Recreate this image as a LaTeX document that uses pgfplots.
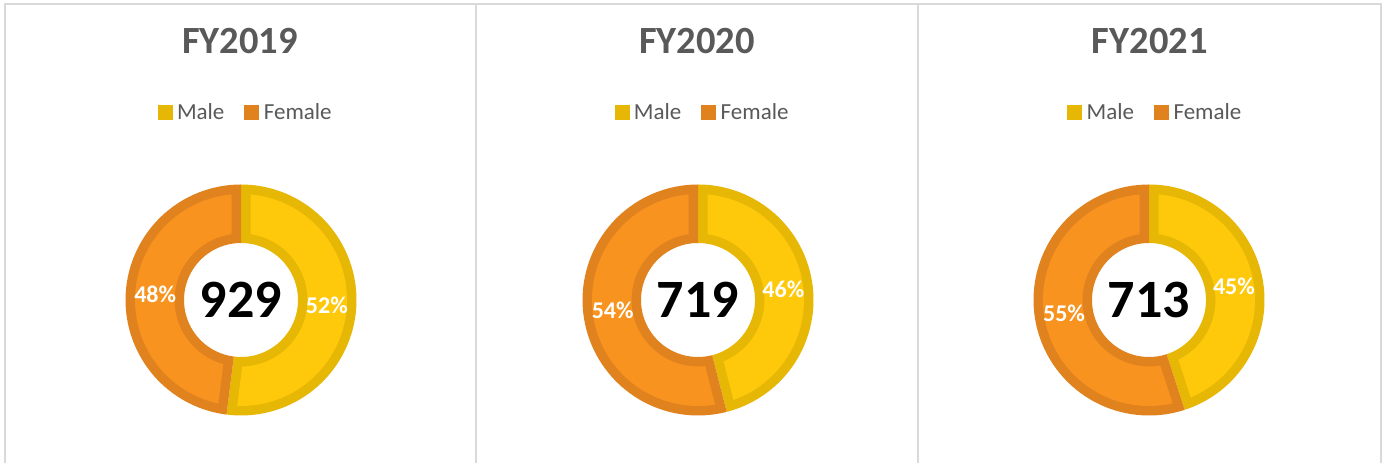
\documentclass[border=0pt]{standalone}
\usepackage{pgfplots}
\pgfplotsset{compat=1.18}
\usepackage{fontspec}
\setmainfont{Carlito}
\definecolor{yfill}{HTML}{FFC90B}
\definecolor{ybord}{HTML}{E6B705}
\definecolor{ofill}{HTML}{F7931E}
\definecolor{obord}{HTML}{E0821E}
\definecolor{txtgray}{HTML}{595959}
\definecolor{framec}{HTML}{D9D9D9}

\def\Ro{115.5}\def\Ri{57}\def\bw{9.5}\def\Rm{86}
\pgfmathsetmacro\dO{asin(\bw/(\Ro-\bw))}
\pgfmathsetmacro\dI{asin(\bw/(\Ri+\bw))}

% #1 cx, #2 cy, #3 start angle, #4 end angle (clockwise), #5 fill, #6 border
\newcommand{\seg}[6]{%
 \addplot[forget plot, fill=#6, draw=none, domain=0:3, samples=241, variable=\t]
  ({#1+((\t<1.5)?(\Ro):(\Ri))*cos((\t<1.5)?((#3)+((#4)-(#3))*min(\t,1)):((#4)+((#3)-(#4))*(max(\t,2)-2)))},
   {#2+((\t<1.5)?(\Ro):(\Ri))*sin((\t<1.5)?((#3)+((#4)-(#3))*min(\t,1)):((#4)+((#3)-(#4))*(max(\t,2)-2)))});
 \addplot[forget plot, fill=#5, draw=none, domain=0:3, samples=241, variable=\t]
  ({#1+((\t<1.5)?(\Ro-\bw):(\Ri+\bw))*cos((\t<1.5)?((#3)-\dO+((#4)-(#3)+2*\dO)*min(\t,1)):((#4)+\dI+((#3)-(#4)-2*\dI)*(max(\t,2)-2)))},
   {#2+((\t<1.5)?(\Ro-\bw):(\Ri+\bw))*sin((\t<1.5)?((#3)-\dO+((#4)-(#3)+2*\dO)*min(\t,1)):((#4)+\dI+((#3)-(#4)-2*\dI)*(max(\t,2)-2)))});
}

% #1 cx, #2 cy, #3 male %, #4 female %, #5 total
\newcommand{\donut}[5]{%
 \seg{#1}{#2}{90}{90-3.6*#3}{yfill}{ybord}
 \seg{#1}{#2}{90-3.6*#3}{-270}{ofill}{obord}
 \node[pct] at (axis cs:{#1+\Rm*cos(90-1.8*#3)},{#2+\Rm*sin(90-1.8*#3)}) {#3\%};
 \node[pct] at (axis cs:{#1+\Rm*cos(90-3.6*#3-1.8*#4)},{#2+\Rm*sin(90-3.6*#3-1.8*#4)}) {#4\%};
 \node[tot] at (axis cs:#1,#2) {#5};
}

\tikzset{
 pct/.style={font=\fontsize{24}{26}\selectfont\bfseries, text=white},
 tot/.style={font=\fontsize{54}{56}\selectfont\bfseries, text=black},
}
\pgfplotsset{
 panel/.style={
  anchor=south west, scale only axis, hide axis, clip=false,
  ymin=0, ymax=463, height=463pt,
  title style={at={(0.5,0.8704)}, anchor=base, font=\fontsize{38.5}{42}\selectfont\bfseries, text=txtgray},
  legend columns=2,
  legend style={at={(0.5,0.757)}, xshift=4.5pt, anchor=center, draw=none, fill=none,
    font=\fontsize{23}{25}\selectfont, text=txtgray,
    nodes={inner sep=0pt},
    /tikz/every odd column/.append style={column sep=5pt},
    /tikz/every even column/.append style={column sep=20pt}},
 },
}
\newcommand{\legendboxes}{%
 \addlegendimage{legend image code/.code={\fill[ybord] (0pt,-7pt) rectangle (14pt,7pt);}}
 \addlegendentry{Male}
 \addlegendimage{legend image code/.code={\fill[obord] (0pt,-7pt) rectangle (14pt,7pt);}}
 \addlegendentry{Female}
}

\begin{document}
\begin{tikzpicture}[x=1pt,y=1pt]
\fill[white] (0,0) rectangle (1384,463);

\begin{axis}[panel, at={(4.5,0)}, xmin=4.5, xmax=475.7, width=471.2pt, title={FY2019}]
 \legendboxes
 \donut{241}{163}{52}{48}{929}
\end{axis}

\begin{axis}[panel, at={(475.7,0)}, xmin=475.7, xmax=918.3, width=442.6pt, title={FY2020}]
 \legendboxes
 \donut{698}{163}{46}{54}{719}
\end{axis}

\begin{axis}[panel, at={(918.3,0)}, xmin=918.3, xmax=1381.3, width=463pt, title={FY2021}]
 \legendboxes
 \donut{1149}{163}{45}{55}{713}
\end{axis}

\draw[framec, line width=2pt] (4.5,0) -- (4.5,459) -- (1381.3,459) -- (1381.3,0);
\draw[framec, line width=2pt] (475.7,0) -- (475.7,459);
\draw[framec, line width=2pt] (918.3,0) -- (918.3,459);
\pgfresetboundingbox
\path[use as bounding box] (0,0) rectangle (1384,463);
\end{tikzpicture}
\end{document}
